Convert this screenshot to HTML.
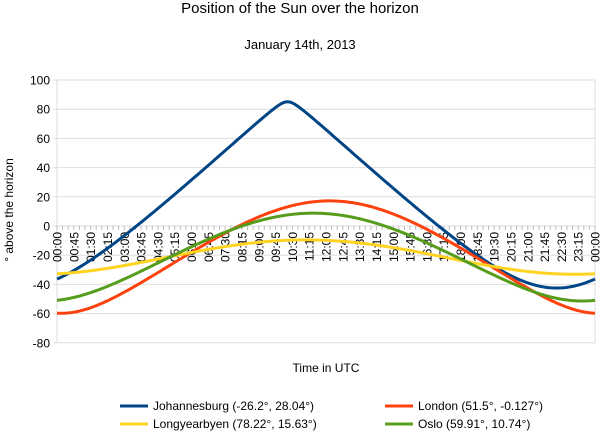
<!DOCTYPE html>
<html><head><meta charset="utf-8"><style>
body{margin:0;background:#fff;font-family:"Liberation Sans",sans-serif}
svg text{font-family:"Liberation Sans",sans-serif;fill:#000}
</style></head><body>
<svg id="s" width="600" height="431" xmlns="http://www.w3.org/2000/svg">
<text x="300" y="13" font-size="15" text-anchor="middle">Position of the Sun over the horizon</text>
<text x="300" y="49" font-size="13" text-anchor="middle">January 14th, 2013</text>
<text transform="translate(13,210) rotate(-90)" font-size="12" text-anchor="middle">° above the horizon</text>
<text x="326" y="372" font-size="12" text-anchor="middle">Time in UTC</text>
<g id="g"></g>
<g font-size="12">
<line x1="120" y1="406" x2="148" y2="406" stroke="#004586" stroke-width="3"/><text x="153" y="410">Johannesburg (-26.2°, 28.04°)</text>
<line x1="385" y1="406" x2="413" y2="406" stroke="#ff420e" stroke-width="3"/><text x="418" y="410">London (51.5°, -0.127°)</text>
<line x1="120" y1="424" x2="148" y2="424" stroke="#ffd320" stroke-width="3"/><text x="153" y="428">Longyearbyen (78.22°, 15.63°)</text>
<line x1="385" y1="424" x2="413" y2="424" stroke="#579d1c" stroke-width="3"/><text x="418" y="428">Oslo (59.91°, 10.74°)</text>
</g>
</svg>
<script>
var g=document.getElementById('g'),h='';
var L=57,R=595,Y=function(v){return 226-v*1.46};
for(var v=-80;v<=100;v+=20){h+='<line x1="'+(L-4)+'" x2="'+R+'" y1="'+Y(v)+'" y2="'+Y(v)+'" stroke="#ddd"/>';
h+='<text x="'+(L-7)+'" y="'+(Y(v)+4.5)+'" font-size="12" text-anchor="end">'+v+'</text>';}
h+='<line x1="'+L+'" x2="'+L+'" y1="80" y2="343" stroke="#ddd"/><line x1="'+R+'" x2="'+R+'" y1="80" y2="343" stroke="#ddd"/>';
var n=96;for(var i=0;i<=n;i++){var x=L+(R-L)*i/n;h+='<line x1="'+x+'" x2="'+x+'" y1="226" y2="230" stroke="#bbb"/>';}
for(var i=0;i<=32;i++){var x=L+(R-L)*i/32;var m=(i*45)%1440;var hh=Math.floor(m/60),mm=m%60;
var t=(hh<10?'0':'')+hh+':'+(mm<10?'0':'')+mm;
h+='<text transform="translate('+(x+4.5)+',232) rotate(-90)" font-size="12" text-anchor="end">'+t+'</text>';}
var d=-21.3*Math.PI/180,r=Math.PI/180;
var S=[[-26.2,28.04,'#004586'],[51.5,-0.127,'#ff420e'],[78.22,15.63,'#ffd320'],[59.91,10.74,'#579d1c']];
S.forEach(function(s){var p='';for(var k=0;k<=288;k++){var t=24*k/288;var H=((t-12)*15+s[1]-2.3)*r;
var e=Math.asin(Math.sin(s[0]*r)*Math.sin(d)+Math.cos(s[0]*r)*Math.cos(d)*Math.cos(H))/r;
p+=(k?'L':'M')+(L+(R-L)*t/24).toFixed(2)+','+Y(e).toFixed(2);}
h+='<path d="'+p+'" fill="none" stroke="'+s[2]+'" stroke-width="3"/>';});
g.innerHTML=h;
</script>
</body></html>
